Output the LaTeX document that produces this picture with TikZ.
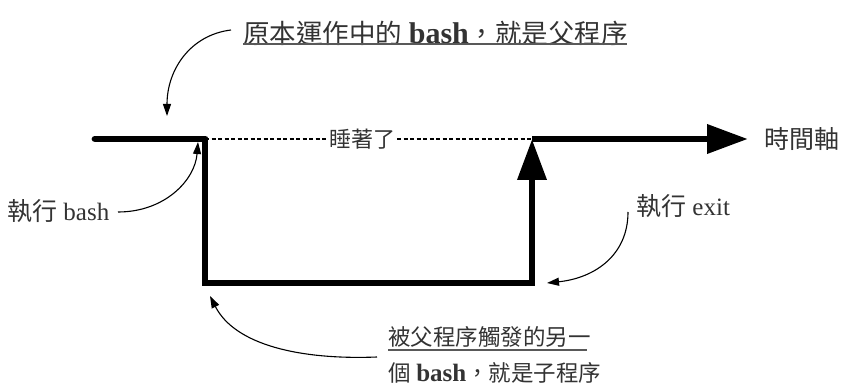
\documentclass[tikz,border=0pt]{standalone}
\usepackage{fontspec}
\setmainfont{Liberation Serif}
\newfontfamily\cjk{Noto Sans CJK TC}
\usetikzlibrary{arrows.meta}
\newcommand\latsz[2]{{\fontsize{#1}{#1}\selectfont #2}}
\tikzset{
  thickline/.style={line width=6.8pt, line join=miter},
  bigtip/.style={-{Triangle[length=41pt,width=28pt]}},
  thinarrow/.style={line width=1.1pt, -{Triangle[length=12pt,width=8pt]}},
  lbl/.style={inner sep=0pt, text=black!80},
  uline/.style={line width=1.4pt, draw=black!65},
}
\begin{document}
\begin{tikzpicture}[x=1pt,y=-1pt]
\useasboundingbox (0,0) rectangle (842,387);
% main path
\coordinate (start) at (95,139);
\coordinate (fork) at (205,139);
\coordinate (low1) at (205,283);
\coordinate (low2) at (532,283);
\coordinate (back) at (532,139);
\coordinate (axisend) at (748,139);
\draw[thickline, line cap=round] (start) -- (fork);
\draw[thickline, bigtip] (fork) -- (low1) -- (low2) -- (back);
\draw[thickline, bigtip] (back) -- (axisend);
% dashed sleep
\node[lbl, font=\fontsize{22}{22}\cjk, fill=white, inner xsep=2pt] (sleep) at (362,139) {睡著了};
\draw[line width=1.2pt, dash pattern=on 4pt off 2.5pt] (fork) -- (sleep.west);
\draw[line width=1.2pt, dash pattern=on 4pt off 2.5pt] (sleep.east) -- (back);
% labels
\node[lbl, anchor=west, font=\fontsize{25}{25}\selectfont] (axis) at (764,139) {\cjk 時間軸};
\node[lbl, anchor=west, font=\fontsize{25}{25}\selectfont] (runbash) at (7,211) {{\cjk 執行} \latsz{25}{bash}};
\node[lbl, anchor=west, font=\fontsize{25}{25}\selectfont] (runexit) at (636,206) {{\cjk 執行} \latsz{25}{exit}};
\node[lbl, anchor=west, font=\fontsize{26.5}{26.5}\selectfont] (parent) at (243,33) {{\cjk 原本運作中的} \latsz{30}{\textbf{bash}}{\cjk ，就是父程序}};
\draw[uline] (243,44) -- (627,44);
\node[lbl, anchor=west, font=\fontsize{22.5}{22.5}\selectfont] (child1) at (388,337) {\cjk 被父程序觸發的另一};
\draw[uline] (388,350) -- (587,350);
\node[lbl, anchor=west, font=\fontsize{22.5}{22.5}\selectfont] (child2) at (388,373) {{\cjk 個} \latsz{25}{\textbf{bash}}{\cjk ，就是子程序}};
% curved arrows
\coordinate (a1s) at (231,30);
\coordinate (a1e) at (167,116);
\draw[thinarrow] (a1s) .. controls (190,35) and (167,70) .. (a1e);
\coordinate (a2s) at (118,212);
\coordinate (a2e) at (198,142);
\draw[thinarrow] (a2s) .. controls (165,212) and (195,180) .. (a2e);
\coordinate (a3s) at (628,212);
\coordinate (a3e) at (547,283);
\draw[thinarrow] (a3s) .. controls (628,255) and (595,278) .. (a3e);
\coordinate (a4s) at (377,357);
\coordinate (a4e) at (210,296);
\draw[thinarrow] (a4s) .. controls (300,360) and (235,345) .. (a4e);
\end{tikzpicture}
\end{document}
